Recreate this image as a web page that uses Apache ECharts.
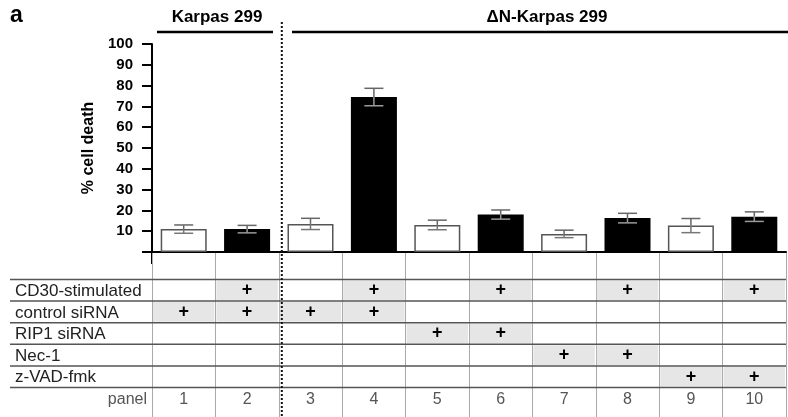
<!DOCTYPE html>
<html>
<head>
<meta charset="utf-8">
<script src="https://cdn.jsdelivr.net/npm/echarts@6/dist/echarts.min.js"></script>
<style>
  html, body { margin: 0; padding: 0; background: #fff; }
  #chart { width: 788px; height: 417px; }
</style>
</head>
<body>
<div id="chart"></div>
<script>
// values
const panels = ["1", "2", "3", "4", "5", "6", "7", "8", "9", "10"];
const deathMean = [11, 11, 13.5, 74.5, 13, 18, 8.7, 16.3, 12.7, 17];
const deathErr = [2, 1.8, 2.7, 4.2, 2.3, 2.2, 1.8, 2.3, 3.4, 2.3];
const yMax = 100;
const yStep = 10;

const treatments = ["CD30-stimulated", "control siRNA", "RIP1 siRNA", "Nec-1", "z-VAD-fmk"];
const cd30 = [0, 1, 0, 1, 0, 1, 0, 1, 0, 1];
const controlSi = [1, 1, 1, 1, 0, 0, 0, 0, 0, 0];
const rip1Si = [0, 0, 0, 0, 1, 1, 0, 0, 0, 0];
const nec1 = [0, 0, 0, 0, 0, 0, 1, 1, 0, 0];
const zvad = [0, 0, 0, 0, 0, 0, 0, 0, 1, 1];

const groupNames = ["Karpas 299", "\u0394N-Karpas 299"];

const FONT = "'Liberation Sans', Arial, sans-serif";
const W = 788, H = 417;
const gridLeft = 152, gridRight = 2;
const plotTop = 44, plotHeight = 208;
const baseY = plotTop + plotHeight;
const tableTop = 279.5, rowH = 21.6;
const bandW = (W - gridLeft - gridRight) / panels.length;

const flagRows = [cd30, controlSi, rip1Si, nec1, zvad];
const cells = [];
flagRows.forEach((flags, r) => flags.forEach((f, c) => cells.push([c, r, f])));
panels.forEach((p, c) => cells.push([c, treatments.length, p]));
const rowItems = treatments.map((t, r) => [0, r]).concat([[0, treatments.length]]);

const tableMin = -(tableTop - baseY) / rowH;
const tableMax = tableMin + (H - baseY) / rowH;

const chart = echarts.init(document.getElementById("chart"));

function errorItem(params, api) {
  const i = api.value(0);
  const m = api.value(1);
  const e = api.value(2);
  const [x, yM] = api.coord([i, m]);
  const yHi = api.coord([i, m + e])[1];
  const yLo = api.coord([i, m - e])[1];
  const hw = 9.5;
  const inner = cd30[i] ? "#9a9a9a" : "#777";
  return {
    type: "group",
    children: [
      { type: "line", shape: { x1: x, y1: yHi, x2: x, y2: yM }, style: { stroke: "#666", lineWidth: 1.5 } },
      { type: "line", shape: { x1: x, y1: yM, x2: x, y2: yLo }, style: { stroke: inner, lineWidth: 1.5 } },
      { type: "line", shape: { x1: x - hw, y1: yHi, x2: x + hw, y2: yHi }, style: { stroke: "#666", lineWidth: 1.5 } },
      { type: "line", shape: { x1: x - hw, y1: yLo, x2: x + hw, y2: yLo }, style: { stroke: inner, lineWidth: 1.5 } },
    ],
  };
}

function rowItem(params, api) {
  const r = api.value(1);
  const cs = params.coordSys;
  const yTop = api.coord([0, r])[1];
  const yBot = api.coord([0, r + 1])[1];
  const x0 = cs.x - 142;
  const x1 = cs.x + cs.width;
  const children = [
    { type: "line", shape: { x1: x0, y1: yTop, x2: x1, y2: yTop }, style: { stroke: "#555", lineWidth: 1.5 } },
  ];
  if (r < treatments.length) {
    children.push({
      type: "text",
      style: { text: treatments[r], x: x0 + 5, y: (yTop + yBot) / 2 + 1, verticalAlign: "middle", font: "17px " + FONT, fill: "#222" },
    });
  } else {
    children.push({
      type: "text",
      style: { text: "panel", x: cs.x - 5, y: (yTop + yBot) / 2 + 1, align: "right", verticalAlign: "middle", font: "16px " + FONT, fill: "#555" },
    });
  }
  return { type: "group", children };
}

function cellItem(params, api) {
  const d = cells[params.dataIndex];
  const c = api.value(0);
  const r = api.value(1);
  const [cx, yTop] = api.coord([c, r]);
  const yBot = api.coord([c, r + 1])[1];
  const bw = api.size([1, 0])[0];
  const yMid = (yTop + yBot) / 2;
  if (r >= treatments.length) {
    return {
      type: "text",
      style: { text: d[2], x: cx, y: yMid + 1, align: "center", verticalAlign: "middle", font: "16px " + FONT, fill: "#555" },
    };
  }
  if (!d[2]) {
    return null;
  }
  return {
    type: "group",
    children: [
      { type: "rect", shape: { x: cx - bw / 2 + 1, y: yTop + 1, width: bw - 2, height: yBot - yTop - 2 }, style: { fill: "#e6e6e6" } },
      { type: "text", style: { text: "+", x: cx, y: yMid, align: "center", verticalAlign: "middle", font: "bold 18px " + FONT, fill: "#000" } },
    ],
  };
}

const dotX = gridLeft + 2 * bandW + 3;

chart.setOption({
  animation: false,
  backgroundColor: "#fff",
  grid: [
    { left: gridLeft, right: gridRight, top: plotTop, height: plotHeight },
    { left: gridLeft, right: gridRight, top: baseY, bottom: 0 },
  ],
  xAxis: [
    {
      gridIndex: 0,
      type: "category",
      data: panels,
      axisLine: { lineStyle: { color: "#000", width: 2 } },
      axisTick: { show: false },
      axisLabel: { show: false },
    },
    {
      gridIndex: 1,
      type: "category",
      data: panels,
      axisLine: { show: false },
      axisTick: { show: false },
      axisLabel: { show: false },
      splitLine: { show: true, interval: 0, lineStyle: { color: "#aaa", width: 1 } },
    },
  ],
  yAxis: [
    {
      gridIndex: 0,
      type: "value",
      min: 0,
      max: yMax,
      interval: yStep,
      name: "% cell death",
      nameLocation: "middle",
      nameGap: 55,
      nameRotate: 90,
      nameTextStyle: { fontFamily: FONT, fontWeight: "bold", fontSize: 16, color: "#000" },
      axisLine: { show: true, lineStyle: { color: "#000", width: 2 } },
      axisTick: { show: true, length: 10, lineStyle: { color: "#000", width: 2 } },
      axisLabel: {
        margin: 19,
        color: "#000",
        fontFamily: FONT,
        fontWeight: "bold",
        fontSize: 15,
        formatter: (v) => (v === 0 ? "" : String(v)),
      },
      splitLine: { show: false },
    },
    {
      gridIndex: 1,
      type: "value",
      inverse: true,
      min: tableMin,
      max: tableMax,
      show: false,
    },
  ],
  graphic: [
    { type: "text", x: 10, y: 4, style: { text: "a", font: "bold 23px " + FONT, fill: "#000" } },
    { type: "text", x: 217, y: 17, style: { text: groupNames[0], font: "bold 17px " + FONT, fill: "#000", align: "center", verticalAlign: "middle" } },
    { type: "text", x: 547, y: 17, style: { text: groupNames[1], font: "bold 17px " + FONT, fill: "#000", align: "center", verticalAlign: "middle" } },
    { type: "line", shape: { x1: 157, y1: 32, x2: 273, y2: 32 }, style: { stroke: "#000", lineWidth: 2.5 } },
    { type: "line", shape: { x1: 292, y1: 32, x2: W, y2: 32 }, style: { stroke: "#000", lineWidth: 2.5 } },
    { type: "line", z: 100, shape: { x1: dotX, y1: 22, x2: dotX, y2: H }, style: { stroke: "#111", lineWidth: 2, lineDash: [2, 2] } },
    { type: "line", shape: { x1: gridLeft, y1: baseY, x2: gridLeft, y2: baseY + 12 }, style: { stroke: "#000", lineWidth: 2 } },
  ],
  series: [
    {
      type: "bar",
      xAxisIndex: 0,
      yAxisIndex: 0,
      barWidth: 46,
      data: deathMean.map((v, i) => ({
        value: v,
        itemStyle: {
          color: cd30[i] ? "#000" : "#fff",
          borderColor: cd30[i] ? "#000" : "#555",
          borderWidth: 1.5,
        },
      })),
    },
    {
      type: "custom",
      xAxisIndex: 0,
      yAxisIndex: 0,
      z: 5,
      renderItem: errorItem,
      data: deathMean.map((v, i) => [i, v, deathErr[i]]),
    },
    {
      type: "custom",
      xAxisIndex: 1,
      yAxisIndex: 1,
      z: 3,
      renderItem: cellItem,
      data: cells.map((d) => [d[0], d[1]]),
    },
    {
      type: "custom",
      xAxisIndex: 1,
      yAxisIndex: 1,
      z: 4,
      renderItem: rowItem,
      data: rowItems,
    },
  ],
});
</script>
</body>
</html>
